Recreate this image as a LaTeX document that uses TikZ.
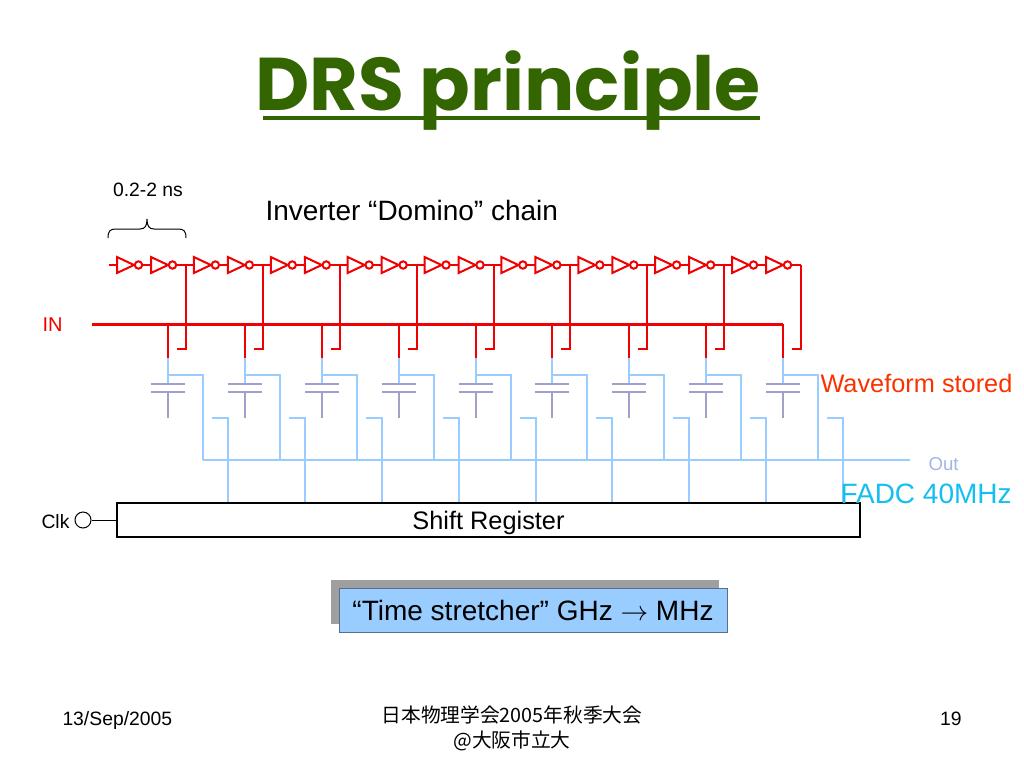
\documentclass[tikz,border=0pt]{standalone}
\usepackage{fontspec}
\setmainfont{Liberation Sans}
\newfontfamily\titlefont{Poppins}
\newfontfamily\jpfont{Noto Sans CJK JP}

\definecolor{titlegreen}{RGB}{51,102,0}
\definecolor{chainred}{RGB}{240,0,0}
\definecolor{wireblue}{RGB}{153,204,255}
\definecolor{capgray}{RGB}{160,160,204}
\definecolor{wavered}{RGB}{250,50,0}
\definecolor{fadccyan}{RGB}{20,190,240}
\definecolor{outgray}{RGB}{160,182,228}
\definecolor{boxblue}{RGB}{153,204,255}

\tikzset{every picture/.style={line width=0.75pt},
  chain wire/.style={draw=chainred, line width=1.5pt},
  bus wire/.style={draw=chainred, line width=2.25pt},
  out wire/.style={draw=wireblue, line width=1.5pt},
  cap plate/.style={draw=capgray, line width=1.5pt},
  inverter/.style={chain wire, fill=white}}

\begin{document}
\begin{tikzpicture}[x=0.75pt,y=0.75pt,yscale=-1,xscale=1]
                  \path [use as bounding box] (0,0) rectangle (1024,768); %slide 1024 x 768

                  % Text Node
                  \draw (508,110) node [anchor=base][inner sep=0pt][text=titlegreen, font=\titlefont\bfseries\fontsize{56}{60}\selectfont] (title) {DRS principle};
                  %Straight Lines [underline]
                  \draw [titlegreen, line width=3pt]   (263,118) -- (760,118) ;

                  %Shape: Brace
                  \draw    (108,238) .. controls (108,231) and (110,229) .. (116,229) -- (140,229) .. controls (145,229) and (147,226) .. (147,219) .. controls (147,226) and (149,229) .. (154,229) -- (178,229) .. controls (184,229) and (186,231) .. (186,238) ;

                  %Straight Lines [chain]
                  \draw [chain wire]   (109,265) -- (801,265) ;
                  %Straight Lines [IN bus]
                  \draw [bus wire]   (92,324) -- (783,324) ;
                  %Straight Lines [Out bus]
                  \draw [out wire]   (203,460) -- (910,460) ;

                  %Cells: two inverters, tap, capacitor, switch
                  \foreach \i in {0,...,8}{
                    \pgfmathsetmacro{\X}{168+76.875*\i}
                    \draw [inverter] (\X-51,257) -- (\X-34,265) -- (\X-51,273) -- cycle ;
                    \draw [inverter] (\X-29.5,265) circle (3.7) ;
                    \draw [inverter] (\X-17,257) -- (\X,265) -- (\X-17,273) -- cycle ;
                    \draw [inverter] (\X+4.5,265) circle (3.7) ;
                    \draw [chain wire] (\X+18,265) -- (\X+18,349) -- (\X+9,349) ;
                    \draw [chain wire] (\X,324) -- (\X,358) ;
                    \draw [out wire] (\X,375) -- (\X+35,375) -- (\X+35,460) ;
                    \draw [out wire] (\X+44,418) -- (\X+60,418) -- (\X+60,503) ;
                    \draw [out wire] (\X,358) -- (\X,384) ;
                    \draw [cap plate] (\X-17,384) -- (\X+17,384) (\X-17,392) -- (\X+17,392) (\X,392) -- (\X,418) ;
                  }

                  %Shape: Shift register
                  \node (sreg) [draw, line width=1.2pt, fill=white, minimum width=557pt, minimum height=25.5pt, inner sep=0pt, text depth=0pt, font=\fontsize{19}{22}\selectfont] at (488.5,520) {Shift Register};
                  %Shape: Circle [clock input]
                  \node (clk) [draw, circle, minimum size=12pt, inner sep=0pt] at (83,520) {};
                  \draw    (clk.east) -- (clk.east -| sreg.west) ;

                  %Shape: Rectangle [shadow]
                  \fill [gray!75]  (331,580) rectangle (719,624) ;
                  %Shape: Box
                  \node (ts) [fill=boxblue, draw={rgb, 255:red, 90; green, 110; blue, 140}, minimum width=291pt, minimum height=33pt, inner sep=0pt, font=\fontsize{21}{24}\selectfont] at (533,610) {“Time stretcher” GHz $\rightarrow$ MHz};

                  % Text Node
                  \draw (148,196) node [anchor=base][inner sep=0pt][font=\fontsize{14.5}{17}\selectfont] (period) {0.2-2 ns};
                  % Text Node
                  \draw (265,220) node [anchor=base west][inner sep=0pt][font=\fontsize{21}{24}\selectfont] (chainlbl) {Inverter “Domino” chain};
                  % Text Node
                  \draw (42,331) node [anchor=base west][inner sep=0pt][text=chainred, font=\fontsize{15}{18}\selectfont] (inlbl) {IN};
                  % Text Node
                  \draw (820,392) node [anchor=base west][inner sep=0pt][text=wavered, font=\fontsize{19}{22}\selectfont] (wavelbl) {Waveform stored};
                  % Text Node
                  \draw (928,470) node [anchor=base west][inner sep=0pt][text=outgray, font=\fontsize{14}{17}\selectfont] (outlbl) {Out};
                  % Text Node
                  \draw (840,503) node [anchor=base west][inner sep=0pt][text=fadccyan, font=\fontsize{21}{24}\selectfont] (fadclbl) {FADC 40MHz};
                  % Text Node
                  \draw (41,528) node [anchor=base west][inner sep=0pt][font=\fontsize{14.5}{17}\selectfont] (clklbl) {Clk};

                  % Text Node
                  \draw (62,725) node [anchor=base west][inner sep=0pt][font=\fontsize{14.5}{17}\selectfont] (date) {13/Sep/2005};
                  % Text Node
                  \draw (512,722) node [anchor=base][inner sep=0pt][font=\jpfont\fontsize{14.8}{19}\selectfont] (conf) {日本物理学会2005年秋季大会};
                  % Text Node
                  \draw (512,747) node [anchor=base][inner sep=0pt][font=\jpfont\fontsize{14.8}{19}\selectfont] (venue) {@大阪市立大};
                  % Text Node
                  \draw (962,725) node [anchor=base east][inner sep=0pt][font=\fontsize{14.5}{17}\selectfont] (page) {19};

\end{tikzpicture}
\end{document}
